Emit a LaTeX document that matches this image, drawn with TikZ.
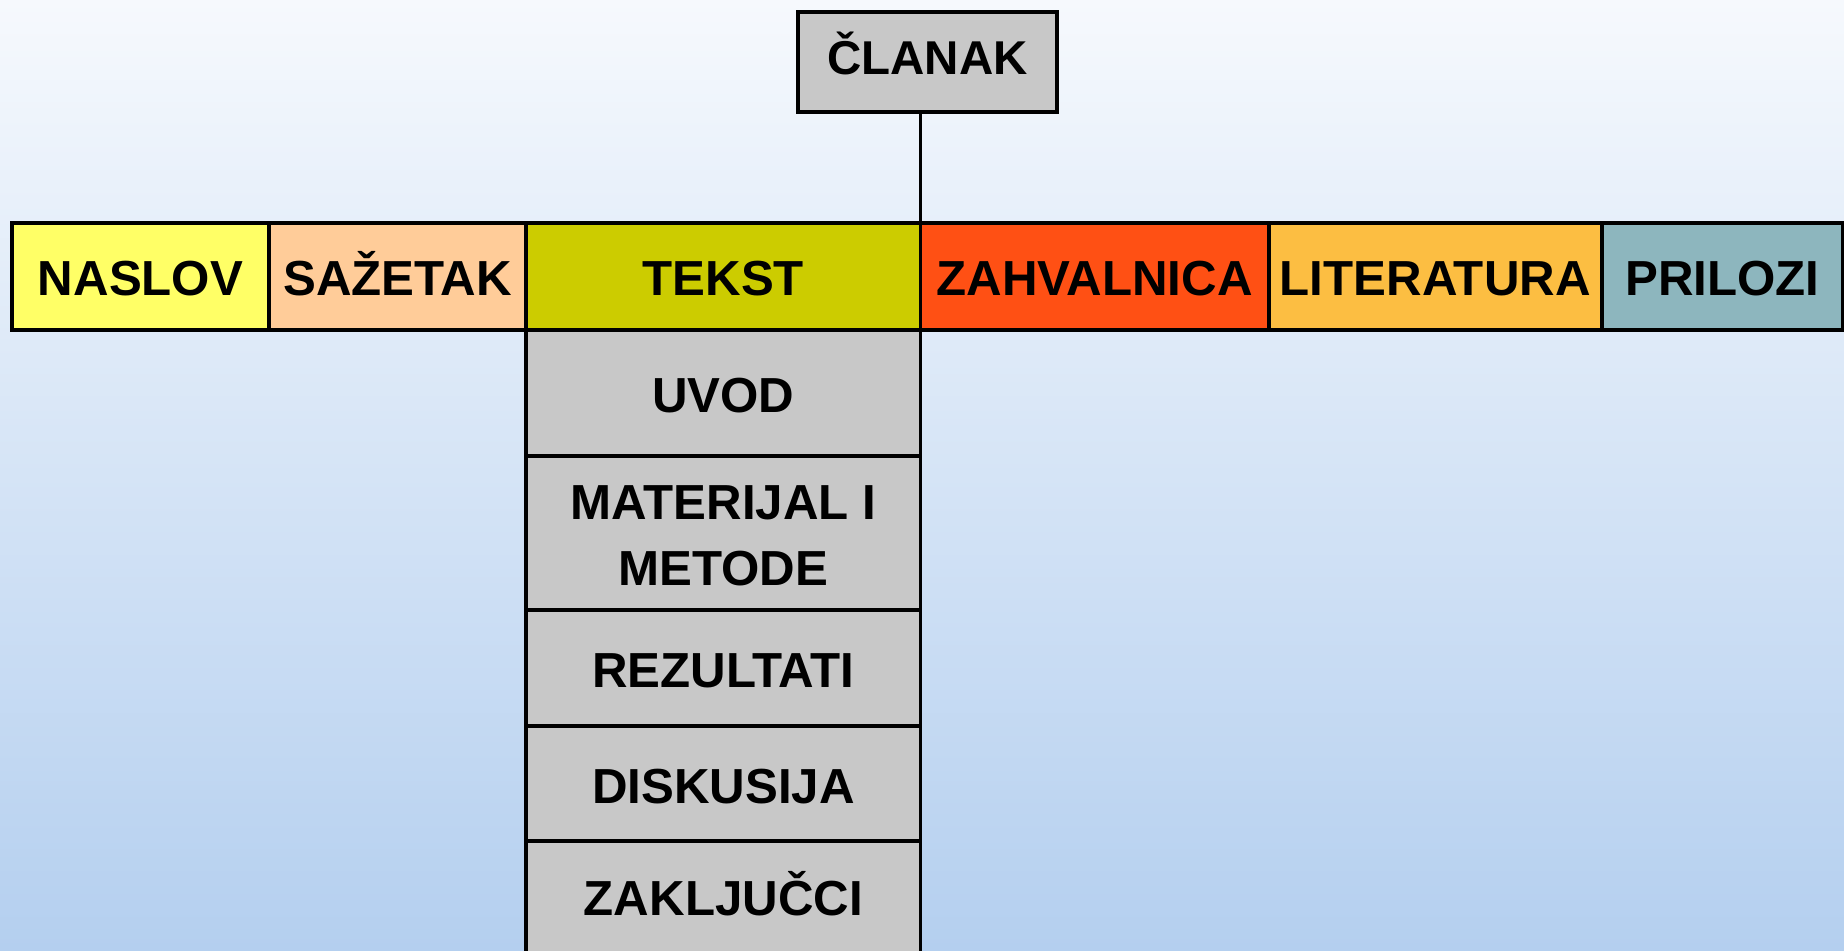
\documentclass[tikz,border=0pt]{standalone}
\usepackage{fontspec}
\setmainfont{Liberation Sans}
\usetikzlibrary{positioning}
\definecolor{bgtop}{RGB}{246,249,253}
\definecolor{bgbottom}{RGB}{180,207,239}
\definecolor{naslovc}{RGB}{255,255,102}
\definecolor{sazetakc}{RGB}{255,204,153}
\definecolor{tekstc}{RGB}{204,204,0}
\definecolor{zahvc}{RGB}{255,80,20}
\definecolor{litc}{RGB}{252,190,66}
\definecolor{prilc}{RGB}{141,182,190}
\definecolor{boxgray}{RGB}{200,200,200}
\tikzset{
  cell/.style={draw, line width=1.1pt, outer sep=0pt, inner sep=0pt, minimum height=1.07cm, text height=11pt, text depth=0pt, font=\fontsize{14}{16}\selectfont\bfseries},
  part/.style={cell, fill=boxgray, minimum width=3.94cm, align=center, font=\fontsize{14}{18.8}\selectfont\bfseries}
}
\begin{document}
\begin{tikzpicture}[x=0.01cm,y=-0.01cm]
\useasboundingbox (0,0) rectangle (1844,950);
\clip (0,0) rectangle (1844,950);
\shade[top color=bgtop, bottom color=bgbottom] (0,0) rectangle (1844,950);
% top box
\node[cell, fill=boxgray, minimum width=2.59cm, minimum height=1cm, text height=7pt, font=\fontsize{13.5}{15}\selectfont\bfseries] (clanak) at (927.5,62) {ČLANAK};
% row of parts
\node[cell, fill=naslovc, minimum width=2.57cm] (naslov) at (140.5,276.5) {NASLOV};
\node[cell, fill=sazetakc, minimum width=2.57cm, right=0pt of naslov] (sazetak) {SAŽETAK};
\node[cell, fill=tekstc, minimum width=3.94cm, right=0pt of sazetak] (tekst) {TEKST};
\node[cell, fill=zahvc, minimum width=3.48cm, right=0pt of tekst] (zahvalnica) {ZAHVALNICA};
\node[cell, fill=litc, minimum width=3.33cm, right=0pt of zahvalnica] (literatura) {LITERATURA};
\node[cell, fill=prilc, minimum width=2.41cm, right=0pt of literatura] (prilozi) {PRILOZI};
\draw[line width=1.1pt] (tekst.north east |- clanak.south) -- (tekst.north east);
% parts of the text
\node[part, minimum height=1.26cm, below=0pt of tekst] (uvod) {UVOD};
\node[part, minimum height=1.54cm, text height=29.8pt, below=0pt of uvod] (metode) {MATERIJAL I\\METODE};
\node[part, minimum height=1.16cm, below=0pt of metode] (rezultati) {REZULTATI};
\node[part, minimum height=1.15cm, below=0pt of rezultati] (diskusija) {DISKUSIJA};
\node[part, minimum height=1.25cm, text depth=4.6pt, below=0pt of diskusija] (zakljucci) {ZAKLJUČCI};
\end{tikzpicture}
\end{document}
